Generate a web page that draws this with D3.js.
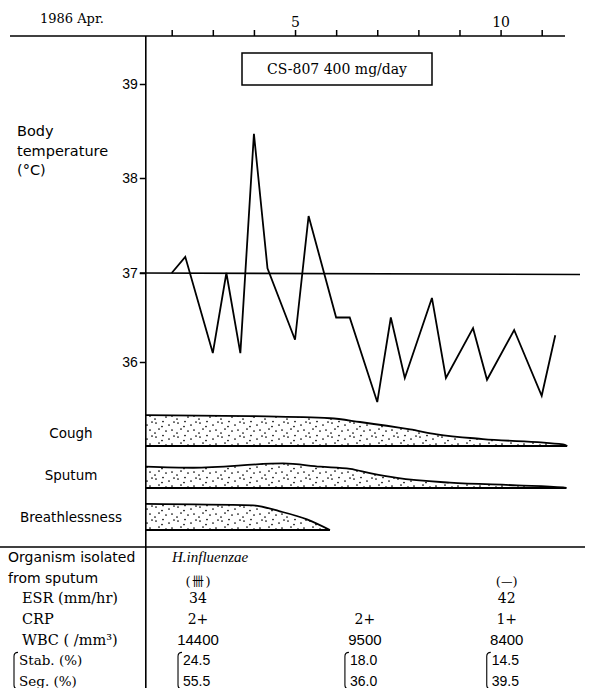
<!DOCTYPE html>
<html><head><meta charset="utf-8">
<script src="https://cdn.jsdelivr.net/npm/d3@7"></script>
<style>body{margin:0;background:#fff} svg{display:block}</style>
</head><body>
<svg id="c" width="593" height="688"></svg>
<script>
// ---------- data ----------
const dayTicks = [2, 3, 4, 5, 6, 7, 8, 9, 10, 11];
const dayTickLabels = [5, 10];
const tempTicks = [36, 37, 38, 39];
const tempDays = [2, 2.33, 3, 3.33, 3.67, 4, 4.33, 5, 5.33, 6, 6.33, 7, 7.33, 7.67, 8.33, 8.67, 9.33, 9.67, 10.33, 11, 11.33];
const temps    = [37.0, 37.17, 36.1, 37.0, 36.1, 38.47, 37.05, 36.25, 37.6, 36.5, 36.5, 35.55, 36.5, 35.82, 36.72, 35.82, 36.38, 35.8, 36.36, 35.62, 36.3];
const drugLabel = "CS-807 400 mg/day";

const symptoms = ["Cough", "Sputum", "Breathlessness"];
const coughDays   = [1.37, 3.9, 5.85, 6.58, 7.8, 8.45, 9.57, 11.52, 11.62];
const coughScore  = [2.9, 2.8, 2.6, 2.25, 1.55, 1.1, 0.65, 0.15, 0];
const sputumDays  = [1.37, 2.52, 4.71, 5.61, 6.34, 6.82, 7.48, 8.77, 10.4, 11.52, 11.6];
const sputumScore = [2.0, 1.9, 2.3, 2.0, 1.8, 1.4, 0.95, 0.5, 0.25, 0.05, 0];
const breathDays  = [1.37, 3.98, 4.63, 5.29, 5.85];
const breathScore = [2.45, 2.3, 1.75, 1.0, 0];

const rowLabels = ["Organism isolated", "from sputum", "ESR (mm/hr)", "CRP", "WBC ( /mm³)", "Stab. (%)", "Seg. (%)"];
const sampleDays = [2.64, 6.7, 10.15];
const organismName = "H.influenzae";
const organismGrade = ["卌", "", "—"];
const esr = ["34", "", "42"];
const crp = ["2+", "2+", "1+"];
const wbc = ["14400", "9500", "8400"];
const stab = ["24.5", "18.0", "14.5"];
const seg = ["55.5", "36.0", "39.5"];

// ---------- drawing ----------
const svg = d3.select("#c");
const SERIF = "'DejaVu Serif', serif";
const TSERIF = "'Liberation Serif', serif";
const SANS = "'DejaVu Sans', sans-serif";
const LSANS = "'Liberation Sans', Arial, sans-serif";

const x = d3.scaleLinear().domain([2, 11]).range([171.7, 541.7]);
const y = d3.scaleLinear().domain([36, 37, 38, 39]).range([362, 273, 178, 84]);
const axisX = x(1.37);
const topY = 36;

// stipple pattern
const defs = svg.append("defs");
const pat = defs.append("pattern").attr("id", "dots").attr("patternUnits", "userSpaceOnUse")
  .attr("width", 22).attr("height", 14);
[[2,3],[9,1.5],[15,5],[20,2],[5,9],[12,11],[18,10],[1,13],[8,6.5]].forEach(p =>
  pat.append("circle").attr("cx", p[0]).attr("cy", p[1]).attr("r", 0.85).attr("fill", "#000"));

// title
svg.append("text").attr("x", 40).attr("y", 23).attr("font-family", SERIF).attr("font-size", 13)
  .text("1986 Apr.");

// top axis
svg.append("line").attr("x1", 10).attr("x2", 565).attr("y1", topY).attr("y2", topY)
  .attr("stroke", "#000").attr("stroke-width", 1.6);
const gTop = svg.append("g").attr("transform", `translate(0,${topY})`)
  .call(d3.axisTop(x).tickValues(dayTicks).tickSize(6).tickPadding(3)
    .tickFormat(d => dayTickLabels.includes(d) ? d : ""));
gTop.select(".domain").remove();
gTop.selectAll(".tick line").attr("stroke", "#000").attr("stroke-width", 1.5);
gTop.selectAll(".tick text").attr("font-family", SERIF).attr("font-size", 14).attr("fill", "#000");

// vertical axis line
svg.append("line").attr("x1", axisX).attr("x2", axisX).attr("y1", topY).attr("y2", 688)
  .attr("stroke", "#000").attr("stroke-width", 1.6);

// y axis
const gY = svg.append("g").attr("transform", `translate(${axisX},0)`)
  .call(d3.axisLeft(y).tickValues(tempTicks).tickSize(6).tickPadding(2).tickFormat(d3.format("d")));
gY.select(".domain").remove();
gY.selectAll(".tick line").attr("stroke", "#000").attr("stroke-width", 1.5);
gY.selectAll(".tick text").attr("font-family", LSANS).attr("font-size", 14).attr("fill", "#000");

// y label
const yl = svg.append("text").attr("font-family", SANS).attr("font-size", 14.5);
["Body", "temperature", "(°C)"].forEach((t, i) =>
  yl.append("tspan").attr("x", 17).attr("y", 136 + i * 19.5).text(t));

// 37 reference line
svg.append("line").attr("x1", axisX - 6).attr("x2", 580).attr("y1", y(37)).attr("y2", y(37) + 1.5)
  .attr("stroke", "#000").attr("stroke-width", 1.6);

// drug box
svg.append("rect").attr("x", 242).attr("y", 53).attr("width", 190).attr("height", 32)
  .attr("fill", "none").attr("stroke", "#000").attr("stroke-width", 1.5);
svg.append("text").attr("x", 337).attr("y", 74).attr("text-anchor", "middle")
  .attr("font-family", SERIF).attr("font-size", 14).text(drugLabel);

// temperature line
const tempData = tempDays.map((d, i) => ({d, t: temps[i]}));
svg.append("path").datum(tempData)
  .attr("d", d3.line().x(p => x(p.d)).y(p => y(p.t)))
  .attr("fill", "none").attr("stroke", "#000").attr("stroke-width", 1.8).attr("stroke-linejoin", "miter");

// symptom bands
const bandBase = d3.scalePoint().domain(symptoms).range([446, 530]);
const thick = d3.scaleLinear().domain([0, 3]).range([0, 32]);
const bandSeries = [
  {name: "Cough", days: coughDays, score: coughScore},
  {name: "Sputum", days: sputumDays, score: sputumScore},
  {name: "Breathlessness", days: breathDays, score: breathScore}
];
bandSeries.forEach(s => {
  const base = bandBase(s.name);
  const pts = s.days.map((d, i) => ({d, v: s.score[i]}));
  svg.append("path").datum(pts)
    .attr("d", d3.area().x(p => x(p.d)).y0(base).y1(p => base - thick(p.v)).curve(d3.curveMonotoneX))
    .attr("fill", "url(#dots)");
  svg.append("path").datum(pts)
    .attr("d", d3.line().x(p => x(p.d)).y(p => base - thick(p.v)).curve(d3.curveMonotoneX))
    .attr("fill", "none").attr("stroke", "#000").attr("stroke-width", 1.8);
  svg.append("line").attr("x1", axisX).attr("x2", x(s.days[s.days.length - 1])).attr("y1", base).attr("y2", base)
    .attr("stroke", "#000").attr("stroke-width", 1.8);
  svg.append("text").attr("x", 71).attr("y", base - 13).attr("dy", "0.35em").attr("text-anchor", "middle")
    .attr("font-family", SANS).attr("font-size", 13.5).text(s.name);
});

// separator
svg.append("line").attr("x1", 0).attr("x2", 585).attr("y1", 547).attr("y2", 547)
  .attr("stroke", "#000").attr("stroke-width", 1.6);

// table
const rowY = d3.scalePoint().domain(rowLabels).range([557, 681]);
const rowX = [8, 8, 22, 22, 22, 19, 19];
const rowFont = [SANS, SANS, SERIF, SERIF, SERIF, SERIF, SERIF];
const rowSize = [14, 14, 14.5, 14.5, 14.5, 13.5, 13.5];
rowLabels.forEach((r, i) => {
  svg.append("text").attr("x", rowX[i]).attr("y", rowY(r)).attr("dy", "0.35em")
    .attr("font-family", rowFont[i]).attr("font-size", rowSize[i]).text(r);
});
function bracket(bx, y0, y1) {
  svg.append("path").attr("d", `M${bx+4},${y0} Q${bx},${y0} ${bx},${y0+4} L${bx},${y1-4} Q${bx},${y1} ${bx+4},${y1}`)
    .attr("fill", "none").attr("stroke", "#000").attr("stroke-width", 1.1);
}
bracket(14, rowY(rowLabels[5]) - 8, rowY(rowLabels[6]) + 8);

svg.append("text").attr("x", 172).attr("y", rowY(rowLabels[0])).attr("dy", "0.35em")
  .attr("font-family", TSERIF).attr("font-style", "italic").attr("font-size", 15).text(organismName);

const colX = sampleDays.map(d => x(d));
function colText(arr, row, font, size) {
  arr.forEach((t, i) => {
    if (!t) return;
    svg.append("text").attr("x", colX[i]).attr("y", rowY(rowLabels[row])).attr("dy", "0.35em")
      .attr("text-anchor", "middle").attr("font-family", font).attr("font-size", size).text(t);
  });
}
// organism grade with parentheses
organismGrade.forEach((t, i) => {
  if (!t) return;
  const cy = rowY(rowLabels[1]) + 4;
  const tx = svg.append("text").attr("x", colX[i]).attr("y", cy).attr("dy", "0.35em")
    .attr("text-anchor", "middle").attr("font-family", SERIF).attr("font-size", 13).attr("fill", "#000");
  tx.append("tspan").text("(");
  tx.append("tspan").attr("font-family", "'Noto Sans CJK JP', 'Noto Sans CJK SC', sans-serif")
    .attr("font-size", t === "卌" ? 12 : 13).attr("fill", "#000").attr("dx", t === "卌" ? 1.5 : 0).text(t);
  tx.append("tspan").attr("dx", t === "卌" ? 1.5 : 0).text(")");
});
colText(esr, 2, SERIF, 14);
colText(crp, 3, SERIF, 14);
colText(wbc, 4, LSANS, 15);
stab.forEach((t, i) => {
  bracket(colX[i] - 20, rowY(rowLabels[5]) - 8, rowY(rowLabels[6]) + 8);
  svg.append("text").attr("x", colX[i] - 15).attr("y", rowY(rowLabels[5])).attr("dy", "0.35em")
    .attr("font-family", LSANS).attr("font-size", 14).text(t);
  svg.append("text").attr("x", colX[i] - 15).attr("y", rowY(rowLabels[6])).attr("dy", "0.35em")
    .attr("font-family", LSANS).attr("font-size", 14).text(seg[i]);
});
</script>
</body></html>
